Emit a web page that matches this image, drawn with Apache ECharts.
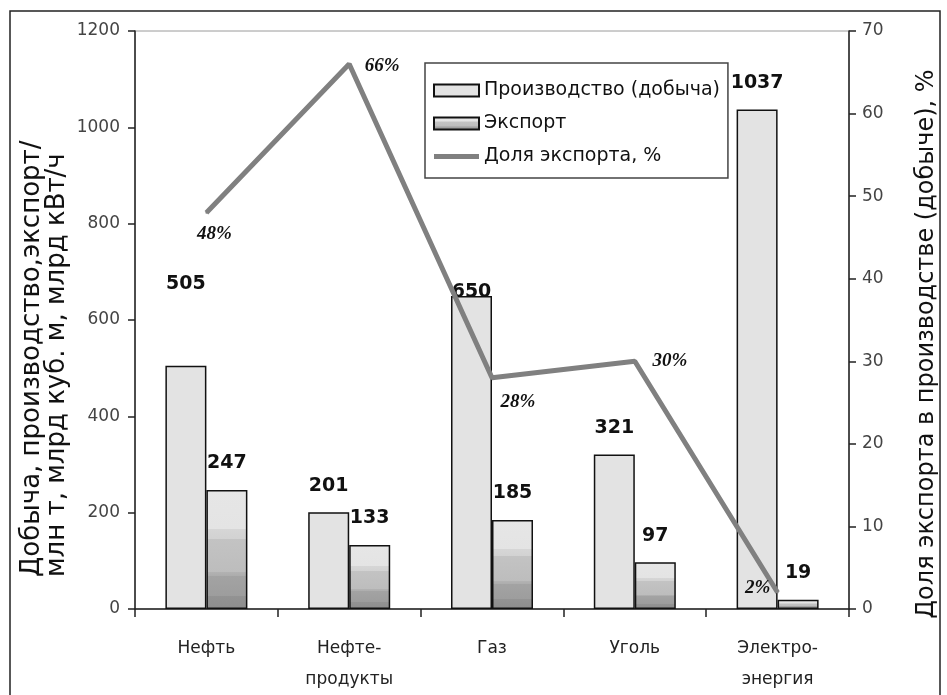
<!DOCTYPE html>
<html>
<head>
<meta charset="utf-8">
<script src="https://cdn.jsdelivr.net/npm/echarts@6/dist/echarts.min.js"></script>
<style>
  html, body { margin: 0; padding: 0; background: #fff; }
  #chart { width: 947px; height: 695px; }
</style>
</head>
<body>
<div id="chart"></div>
<script>
// Добыча, экспорт и доля экспорта по видам энергоресурсов
const categories = ['Нефть', 'Нефте-\nпродукты', 'Газ', 'Уголь', 'Электро-\nэнергия'];
const production = [505, 201, 650, 321, 1037];
const exportValues = [247, 133, 185, 97, 19];
const exportShare = [48, 66, 28, 30, 2];

const leftTicks = { min: 0, max: 1200, interval: 200 };
const rightTicks = { min: 0, max: 70, interval: 10 };

const leftTitleLines = ['Добыча, производство,экспорт/', 'млн т, млрд куб. м, млрд кВт/ч'];
const rightTitle = 'Доля экспорта в производстве (добыче), %';

// label placement tweaks (style only)
const productionLabelGap = [72, 17, -6, 17, 17];
const shareLabelOffset = [[8, 21], [33, 2], [26, 24], [35, 0], [-20, -4]];

const SANS = 'DejaVu Sans, Verdana, sans-serif';

const chart = echarts.init(document.getElementById('chart'), null, { renderer: 'canvas' });

const barLabel = {
  show: true,
  position: 'top',
  color: '#111',
  fontFamily: SANS,
  fontWeight: 'bold',
  fontSize: 19,
  distance: 17
};

// banded grey fill of the export bars
const exportGradient = new echarts.graphic.LinearGradient(0, 0, 0, 1, [
  { offset: 0, color: '#e6e6e6' },
  { offset: 0.33, color: '#e4e4e4' },
  { offset: 0.33, color: '#d6d6d6' },
  { offset: 0.41, color: '#d2d2d2' },
  { offset: 0.41, color: '#c3c3c3' },
  { offset: 0.69, color: '#bdbdbd' },
  { offset: 0.69, color: '#b2b2b2' },
  { offset: 0.72, color: '#adadad' },
  { offset: 0.72, color: '#a3a3a3' },
  { offset: 0.89, color: '#9d9d9d' },
  { offset: 0.89, color: '#939393' },
  { offset: 1, color: '#8d8d8d' }
]);

const plainNumber = v => String(v);

const option = {
  backgroundColor: '#ffffff',
  animation: false,
  graphic: [{
    type: 'rect',
    shape: { x: 10, y: 11, width: 930, height: 700 },
    style: { fill: 'none', stroke: '#222', lineWidth: 1.5 },
    silent: true
  }],
  grid: {
    left: 135, right: 98, top: 31, bottom: 85,
    show: true, borderColor: '#9a9a9a', borderWidth: 1
  },
  legend: {
    orient: 'vertical',
    left: 425, top: 63,
    padding: [18, 8, 12, 8],
    backgroundColor: '#fff',
    borderColor: '#444', borderWidth: 1.5,
    itemWidth: 45, itemHeight: 12, itemGap: 14,
    textStyle: { fontFamily: SANS, fontSize: 19, color: '#111' },
    data: [
      { name: 'Производство (добыча)', icon: 'rect' },
      { name: 'Экспорт', icon: 'rect' },
      { name: 'Доля экспорта, %', icon: 'path://M0,0 H90 V10 H0 Z' }
    ]
  },
  xAxis: {
    type: 'category',
    data: categories,
    axisLine: { lineStyle: { color: '#222', width: 1.5 } },
    axisTick: { show: true, length: 8, lineStyle: { color: '#222', width: 1.5 } },
    axisLabel: {
      color: '#222', fontSize: 17, lineHeight: 31, margin: 24,
      fontFamily: SANS
    }
  },
  yAxis: [{
    type: 'value',
    min: leftTicks.min, max: leftTicks.max, interval: leftTicks.interval,
    name: leftTitleLines.map(s => '{t|' + s + '}').join('\n'),
    nameLocation: 'middle', nameRotate: 90, nameGap: 65,
    nameMoveOverlap: false,
    nameTextStyle: {
      color: '#111', fontFamily: SANS, align: 'center',
      rich: { t: { width: 514, align: 'left', fontSize: 26, lineHeight: 25, fontFamily: SANS, color: '#111' } }
    },
    axisLine: { show: true, lineStyle: { color: '#222', width: 1.5 } },
    axisTick: { show: true, length: 7, lineStyle: { color: '#222', width: 1.5 } },
    axisLabel: { color: '#444', fontSize: 17, margin: 15, fontFamily: SANS, formatter: plainNumber },
    splitLine: { show: false }
  }, {
    type: 'value',
    position: 'right',
    min: rightTicks.min, max: rightTicks.max, interval: rightTicks.interval,
    name: rightTitle,
    nameLocation: 'middle', nameRotate: 90, nameGap: 66,
    nameMoveOverlap: false,
    nameTextStyle: { color: '#111', fontSize: 24, fontFamily: SANS, padding: [0, 48, 0, 0] },
    axisLine: { show: true, lineStyle: { color: '#222', width: 1.5 } },
    axisTick: { show: true, length: 7, lineStyle: { color: '#222', width: 1.5 } },
    axisLabel: { color: '#444', fontSize: 17, margin: 13, fontFamily: SANS, formatter: plainNumber },
    splitLine: { show: false }
  }],
  series: [{
    name: 'Производство (добыча)',
    type: 'bar',
    barWidth: 41,
    barGap: '0%',
    itemStyle: { color: '#e3e3e3', borderColor: '#111', borderWidth: 1.5 },
    label: barLabel,
    data: production.map((v, i) => ({ value: v, label: { distance: productionLabelGap[i] } }))
  }, {
    name: 'Экспорт',
    type: 'bar',
    barWidth: 41,
    itemStyle: { color: exportGradient, borderColor: '#111', borderWidth: 1.5 },
    label: barLabel,
    data: exportValues
  }, {
    name: 'Доля экспорта, %',
    type: 'line',
    yAxisIndex: 1,
    symbol: 'circle',
    symbolSize: 2,
    showSymbol: true,
    itemStyle: { color: '#808080' },
    lineStyle: { color: '#808080', width: 5 },
    z: 5,
    label: {
      show: true,
      position: 'inside',
      formatter: '{c}%',
      color: '#111',
      fontFamily: 'Liberation Serif, Times New Roman, serif',
      fontStyle: 'italic',
      fontWeight: 'bold',
      fontSize: 19
    },
    data: exportShare.map((v, i) => ({ value: v, label: { offset: shareLabelOffset[i] } }))
  }]
};

chart.setOption(option);
</script>
</body>
</html>
